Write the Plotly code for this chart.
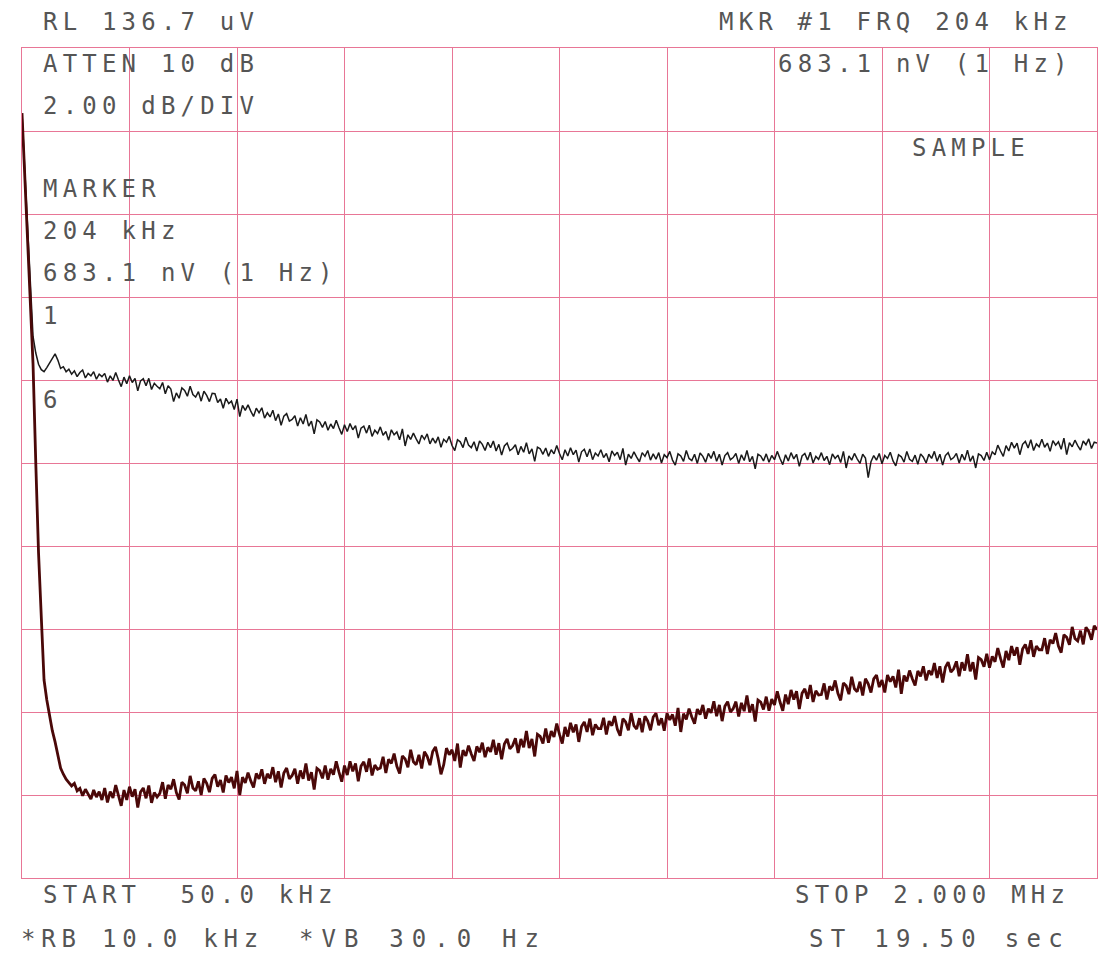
import plotly.graph_objects as go

# ---- sweep settings (kHz) and reference level scale (dB relative to RL) ----
START_KHZ = 50.0
STOP_KHZ = 2000.0
DB_PER_DIV = 2.0
N_DIV = 10

FREQ_KHZ = [50, 55, 60, 65, 70, 75, 80, 85, 90, 95] + list(range(100, 2001, 5))

# upper (black) trace, dB below reference level
TRACE_UPPER_DB = [
    -1.57, -3.01, -4.43, -5.88, -6.95, -7.35, -7.62, -7.75, -7.80, -7.70,
    # 100-195
    -7.60, -7.48, -7.37, -7.52, -7.72, -7.68, -7.80, -7.74, -7.86, -7.78,
    -7.92, -7.82, -7.76, -7.95, -7.84, -7.90, -7.80, -7.98, -7.86, -7.92,
    # 200-295
    -7.84, -8.05, -7.90, -8.01, -7.82, -8.00, -8.16, -7.93, -8.09, -7.90,
    -8.06, -7.96, -8.26, -8.02, -7.97, -8.14, -7.96, -8.23, -8.08, -8.15,
    # 300-395
    -8.21, -8.06, -8.33, -8.14, -8.22, -8.52, -8.31, -8.44, -8.19, -8.25,
    -8.39, -8.15, -8.35, -8.41, -8.28, -8.51, -8.27, -8.37, -8.52, -8.32,
    # 400-495
    -8.33, -8.54, -8.46, -8.68, -8.44, -8.57, -8.51, -8.71, -8.46, -8.88,
    -8.61, -8.73, -8.60, -8.75, -8.88, -8.68, -8.79, -8.67, -8.92, -8.79,
    # 500-595
    -8.89, -8.73, -8.98, -8.82, -9.09, -8.87, -8.81, -8.99, -8.95, -8.86,
    -9.11, -8.91, -9.06, -8.83, -9.11, -8.99, -9.30, -8.96, -9.01, -9.14,
    # 600-695
    -9.00, -9.21, -9.06, -9.17, -8.97, -9.15, -9.31, -9.08, -9.24, -9.05,
    -9.20, -9.10, -9.40, -9.16, -9.11, -9.28, -9.09, -9.36, -9.21, -9.29,
    # 700-795
    -9.13, -9.33, -9.24, -9.45, -9.20, -9.32, -9.25, -9.44, -9.18, -9.59,
    -9.32, -9.43, -9.28, -9.42, -9.54, -9.33, -9.43, -9.30, -9.54, -9.40,
    # 800-895
    -9.52, -9.37, -9.62, -9.43, -9.50, -9.36, -9.58, -9.70, -9.44, -9.49,
    -9.63, -9.38, -9.57, -9.63, -9.49, -9.71, -9.47, -9.55, -9.70, -9.50,
    # 900-995
    -9.63, -9.47, -9.71, -9.55, -9.81, -9.59, -9.52, -9.70, -9.65, -9.56,
    -9.80, -9.60, -9.74, -9.51, -9.78, -9.66, -9.96, -9.62, -9.66, -9.79,
    # 1000-1095
    -9.64, -9.84, -9.68, -9.78, -9.58, -9.77, -9.92, -9.68, -9.83, -9.63,
    -9.80, -9.69, -9.98, -9.73, -9.67, -9.85, -9.66, -9.92, -9.76, -9.83,
    # 1100-1195
    -9.68, -9.87, -9.77, -9.97, -9.71, -9.82, -9.74, -9.92, -9.65, -10.05,
    -9.79, -9.89, -9.73, -9.86, -9.97, -9.75, -9.84, -9.70, -9.93, -9.78,
    # 1200-1295
    -9.91, -9.75, -10.00, -9.80, -9.87, -9.72, -9.93, -10.05, -9.78, -9.83,
    -9.96, -9.70, -9.89, -9.94, -9.79, -10.01, -9.76, -9.84, -9.98, -9.77,
    # 1300-1395
    -9.89, -9.72, -9.96, -9.79, -10.05, -9.82, -9.75, -9.92, -9.87, -9.77,
    -10.01, -9.80, -9.94, -9.70, -9.97, -9.84, -10.14, -9.79, -9.83, -9.95,
    # 1400-1495
    -9.78, -9.98, -9.82, -9.92, -9.72, -9.89, -10.04, -9.80, -9.95, -9.75,
    -9.90, -9.79, -10.08, -9.83, -9.77, -9.93, -9.74, -10.00, -9.84, -9.91,
    # 1500-1595
    -9.75, -9.94, -9.84, -10.04, -9.78, -9.89, -9.81, -9.99, -9.72, -10.12,
    -9.83, -9.93, -9.77, -9.90, -10.01, -9.79, -9.88, -10.35, -9.97, -9.82,
    # 1600-1695
    -9.93, -9.77, -10.02, -9.82, -9.89, -9.74, -9.95, -10.07, -9.80, -9.85,
    -9.98, -9.72, -9.91, -9.96, -9.81, -10.03, -9.78, -9.86, -10.00, -9.79,
    # 1700-1795
    -9.89, -9.72, -9.96, -9.79, -10.05, -9.82, -9.75, -9.92, -9.87, -9.77,
    -10.00, -9.79, -9.93, -9.69, -9.96, -9.83, -10.12, -9.78, -9.82, -9.94,
    # 1800-1895
    -9.74, -9.92, -9.73, -9.80, -9.57, -9.71, -9.84, -9.58, -9.71, -9.50,
    -9.64, -9.52, -9.80, -9.55, -9.48, -9.64, -9.44, -9.70, -9.54, -9.61,
    # 1900-1995
    -9.43, -9.62, -9.52, -9.72, -9.46, -9.57, -9.49, -9.67, -9.40, -9.80,
    -9.51, -9.61, -9.45, -9.58, -9.69, -9.47, -9.56, -9.42, -9.65, -9.50,
    # 2000
    -9.52,
]

# lower (dark red) trace, dB below reference level
TRACE_LOWER_DB = [
    -1.57, -3.01, -4.43, -5.88, -7.61, -10.00, -12.17, -13.71, -15.23, -15.71,
    # 100-195
    -16.10, -16.45, -16.72, -17.05, -17.35, -17.50, -17.62, -17.70, -17.78, -17.72,
    -17.90, -17.84, -18.02, -17.86, -17.98, -18.10, -17.88, -18.05, -17.92, -18.12,
    # 200-295
    -17.83, -18.18, -17.92, -18.07, -17.76, -18.03, -18.26, -17.88, -18.12, -17.80,
    -18.04, -17.86, -18.30, -17.93, -17.83, -18.08, -17.77, -18.19, -17.94, -18.05,
    # 300-395
    -17.96, -17.69, -18.09, -17.76, -17.86, -17.62, -17.94, -18.11, -17.69, -17.76,
    -17.96, -17.54, -17.83, -17.90, -17.67, -18.00, -17.60, -17.72, -17.93, -17.60,
    # 400-495
    -17.51, -17.80, -17.64, -17.94, -17.53, -17.70, -17.57, -17.84, -17.42, -18.00,
    -17.57, -17.71, -17.46, -17.66, -17.82, -17.48, -17.61, -17.38, -17.73, -17.49,
    # 500-595
    -17.60, -17.33, -17.69, -17.43, -17.82, -17.47, -17.35, -17.61, -17.53, -17.37,
    -17.73, -17.41, -17.61, -17.24, -17.65, -17.45, -17.87, -17.36, -17.41, -17.60,
    # 600-695
    -17.29, -17.63, -17.37, -17.51, -17.19, -17.45, -17.68, -17.29, -17.52, -17.19,
    -17.43, -17.24, -17.67, -17.30, -17.20, -17.44, -17.12, -17.53, -17.28, -17.38,
    # 700-795
    -17.35, -17.08, -17.47, -17.14, -17.24, -17.00, -17.31, -17.48, -17.06, -17.13,
    -17.33, -16.91, -17.20, -17.27, -17.03, -17.36, -16.96, -17.07, -17.28, -16.95,
    # 800-895
    -16.84, -17.13, -17.50, -17.27, -16.87, -17.03, -16.91, -17.18, -16.76, -17.34,
    -16.92, -17.06, -16.81, -17.01, -17.18, -16.83, -16.97, -16.74, -17.09, -16.85,
    # 900-995
    -16.96, -16.67, -17.03, -16.75, -17.14, -16.77, -16.65, -16.89, -16.81, -16.63,
    -16.99, -16.65, -16.85, -16.46, -16.87, -16.65, -17.07, -16.54, -16.59, -16.76,
    # 1000-1095
    -16.40, -16.74, -16.46, -16.60, -16.28, -16.54, -16.76, -16.36, -16.59, -16.26,
    -16.49, -16.30, -16.72, -16.35, -16.24, -16.48, -16.16, -16.56, -16.30, -16.40,
    # 1100-1195
    -16.40, -16.14, -16.54, -16.22, -16.33, -16.10, -16.42, -16.57, -16.16, -16.24,
    -16.44, -16.03, -16.33, -16.41, -16.15, -16.49, -16.10, -16.22, -16.44, -16.12,
    # 1200-1295
    -16.03, -16.32, -16.15, -16.45, -16.03, -16.19, -16.06, -16.33, -15.90, -16.48,
    -16.04, -16.18, -15.92, -16.12, -16.28, -15.93, -16.06, -15.83, -16.16, -15.92,
    # 1300-1395
    -16.02, -15.74, -16.10, -15.83, -16.22, -15.86, -15.75, -16.00, -15.92, -15.75,
    -16.11, -15.78, -15.98, -15.60, -16.01, -15.81, -16.23, -15.71, -15.76, -15.94,
    # 1400-1495
    -15.63, -15.97, -15.69, -15.83, -15.50, -15.76, -15.97, -15.58, -15.81, -15.47,
    -15.70, -15.50, -15.93, -15.55, -15.44, -15.68, -15.35, -15.76, -15.49, -15.59,
    # 1500-1595
    -15.58, -15.31, -15.70, -15.38, -15.48, -15.24, -15.55, -15.72, -15.30, -15.37,
    -15.57, -15.15, -15.44, -15.51, -15.27, -15.60, -15.20, -15.32, -15.53, -15.20,
    # 1600-1695
    -15.11, -15.40, -15.23, -15.53, -15.11, -15.27, -15.14, -15.41, -14.98, -15.56,
    -15.12, -15.26, -15.00, -15.20, -15.36, -15.01, -15.14, -14.90, -15.24, -15.00,
    # 1700-1795
    -15.11, -14.82, -15.18, -14.90, -15.29, -14.92, -14.80, -15.04, -14.96, -14.78,
    -15.14, -14.80, -15.00, -14.61, -15.02, -14.80, -15.22, -14.69, -14.74, -14.91,
    # 1800-1895
    -14.60, -14.93, -14.66, -14.79, -14.46, -14.71, -14.93, -14.53, -14.75, -14.41,
    -14.64, -14.44, -14.86, -14.48, -14.37, -14.60, -14.27, -14.67, -14.41, -14.50,
    # 1900-1995
    -14.50, -14.22, -14.60, -14.26, -14.35, -14.10, -14.41, -14.57, -14.14, -14.20,
    -14.38, -13.95, -14.23, -14.29, -14.04, -14.37, -13.96, -14.06, -14.26, -13.92,
    # 2000
    -14.02,
]

if not (len(FREQ_KHZ) == len(TRACE_UPPER_DB) == len(TRACE_LOWER_DB)):
    raise ValueError((len(FREQ_KHZ), len(TRACE_UPPER_DB), len(TRACE_LOWER_DB)))

# ---- annotation texts ----
LEFT_TEXTS = ["RL 136.7 uV", "ATTEN 10 dB", "2.00 dB/DIV", "MARKER",
              "204 kHz", "683.1 nV (1 Hz)", "1", "6"]
RIGHT_TEXTS = ["MKR #1 FRQ 204 kHz", "683.1 nV (1 Hz)"]
SAMPLE_TEXT = "SAMPLE"
BOTTOM_LEFT = ["START\u00a0 50.0 kHz", "*RB 10.0 kHz"]
BOTTOM_MID = "*VB 30.0 Hz"
BOTTOM_RIGHT = ["STOP 2.000 MHz", "ST 19.50 sec"]

W, H = 1106, 956
L, R, T, B = 22, 9, 48, 78
PW, PH = W - L - R, H - T - B

GRID = "rgb(232,118,150)"
TXT = "#555555"
FONT = dict(family="DejaVu Sans Mono", size=24, color=TXT)


def sp(s, ls=5.2):
    return '<span style="letter-spacing:%.1fpx">' % ls + s + '</span>'


def px_x(px):
    return (px - L) / PW


def px_y(py):
    return (H - B - py) / PH


fig = go.Figure()
fig.add_trace(go.Scatter(x=FREQ_KHZ, y=TRACE_UPPER_DB, mode="lines",
                         line=dict(color="#1a1a1a", width=1.5),
                         hoverinfo="skip", showlegend=False))
fig.add_trace(go.Scatter(x=FREQ_KHZ, y=TRACE_LOWER_DB, mode="lines",
                         line=dict(color="#4a0808", width=2.8),
                         hoverinfo="skip", showlegend=False))

ann = []
left_y = [22, 64, 106, 189, 231, 273, 316, 400]
for t, yy in zip(LEFT_TEXTS, left_y):
    ann.append(dict(text=sp(t), x=px_x(42), y=px_y(yy), xanchor="left", yanchor="middle"))
for t, yy in zip(RIGHT_TEXTS, [22, 64]):
    ann.append(dict(text=sp(t), x=px_x(1074), y=px_y(yy), xanchor="right", yanchor="middle"))
ann.append(dict(text=sp(SAMPLE_TEXT), x=px_x(911), y=px_y(148), xanchor="left", yanchor="middle"))
ann.append(dict(text=sp(BOTTOM_LEFT[0]), x=px_x(42), y=px_y(895), xanchor="left", yanchor="middle"))
ann.append(dict(text=sp(BOTTOM_LEFT[1], 5.8), x=px_x(20), y=px_y(939), xanchor="left", yanchor="middle"))
ann.append(dict(text=sp(BOTTOM_MID, 8.1), x=px_x(298), y=px_y(939), xanchor="left", yanchor="middle"))
ann.append(dict(text=sp(BOTTOM_RIGHT[0]), x=px_x(1071), y=px_y(895), xanchor="right", yanchor="middle"))
ann.append(dict(text=sp(BOTTOM_RIGHT[1], 7.3), x=px_x(1071), y=px_y(939), xanchor="right", yanchor="middle"))
for a in ann:
    a.update(xref="paper", yref="paper", showarrow=False, font=FONT, borderpad=0)

fig.update_layout(
    width=W, height=H, autosize=False,
    margin=dict(l=L, r=R, t=T, b=B, pad=0),
    paper_bgcolor="white", plot_bgcolor="white",
    annotations=ann,
    xaxis=dict(range=[START_KHZ, STOP_KHZ], tick0=START_KHZ,
               dtick=(STOP_KHZ - START_KHZ) / N_DIV,
               showgrid=True, gridcolor=GRID, gridwidth=1.4,
               showline=True, linecolor=GRID, linewidth=1.4, mirror=True,
               zeroline=False, showticklabels=False, ticks=""),
    yaxis=dict(range=[-N_DIV * DB_PER_DIV, 0], tick0=0, dtick=DB_PER_DIV,
               showgrid=True, gridcolor=GRID, gridwidth=1.4,
               showline=True, linecolor=GRID, linewidth=1.4, mirror=True,
               zeroline=False, showticklabels=False, ticks=""),
)

fig.write_html("out.html")
